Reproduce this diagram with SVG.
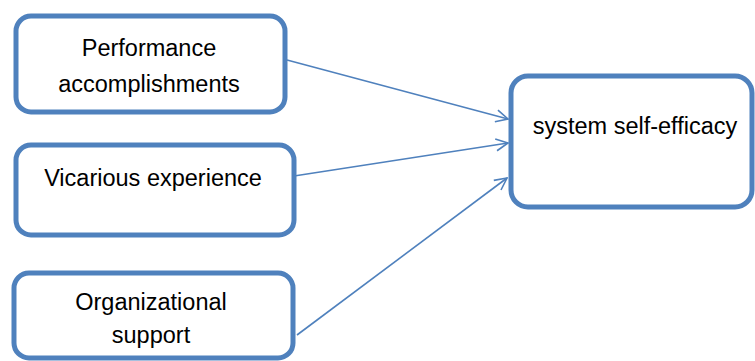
<svg xmlns="http://www.w3.org/2000/svg" width="755" height="361" viewBox="0 0 755 361">
<style>
.box{fill:#fff;stroke:#4F81BD;stroke-width:5}
.lbl{font-family:"Liberation Sans",Arial,sans-serif;font-size:23.5px;fill:#000;text-anchor:middle}
.edge{stroke:#4F81BD;stroke-width:1.6;fill:none}
</style>
<defs>
<marker id="arr" viewBox="0 0 14 14" refX="13" refY="7" markerWidth="14" markerHeight="14" markerUnits="userSpaceOnUse" orient="auto">
<path d="M1,1 L13,7 L1,13" fill="none" stroke="#4F81BD" stroke-width="1.6"/>
</marker>
</defs>
<rect width="755" height="361" fill="#fff"/>
<g id="edges">
<line class="edge" x1="287" y1="60" x2="508" y2="119" marker-end="url(#arr)"/>
<line class="edge" x1="294" y1="176" x2="508" y2="143" marker-end="url(#arr)"/>
<line class="edge" x1="297" y1="335" x2="507" y2="178" marker-end="url(#arr)"/>
</g>
<g id="n1">
<rect class="box" x="16" y="16" width="269" height="96" rx="15"/>
<text class="lbl" x="149" y="56">Performance</text>
<text class="lbl" x="149" y="92">accomplishments</text>
</g>
<g id="n2">
<rect class="box" x="16" y="145" width="278" height="90" rx="15"/>
<text class="lbl" x="153" y="186">Vicarious experience</text>
</g>
<g id="n3">
<rect class="box" x="14" y="273" width="279" height="85" rx="15"/>
<text class="lbl" x="151" y="310">Organizational</text>
<text class="lbl" x="151" y="343">support</text>
</g>
<g id="n4">
<rect class="box" x="511" y="76" width="241" height="131" rx="17"/>
<text class="lbl" x="635" y="134">system self-efficacy</text>
</g>
</svg>
